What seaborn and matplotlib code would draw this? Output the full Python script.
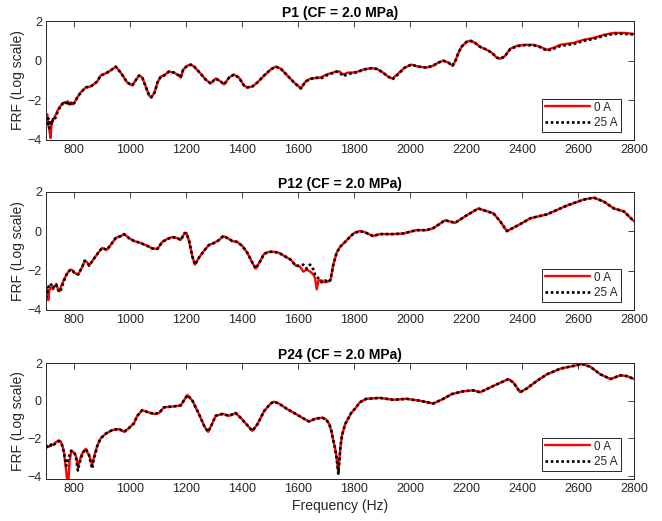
import matplotlib
matplotlib.use("Agg")
import matplotlib.pyplot as plt
import seaborn as sns
import numpy as np

# ---------------- data ----------------
titles = ["P1 (CF = 2.0 MPa)", "P12 (CF = 2.0 MPa)", "P24 (CF = 2.0 MPa)"]
series_labels = ["0 A", "25 A"]
x_ticks = [800, 1000, 1200, 1400, 1600, 1800, 2000, 2200, 2400, 2600, 2800]
y_ticks = [-4, -2, 0, 2]

p1_freq = [700, 704, 708, 712, 716, 720, 725, 730, 736, 742,
           748, 754, 760, 766, 772, 778, 784, 790, 796, 800,
           812, 824, 842, 860, 883, 895, 919, 935, 949, 967,
           990, 1008, 1020, 1032, 1044, 1056, 1068, 1076, 1088, 1098,
           1110, 1121, 1139, 1157, 1175, 1181, 1190, 1205, 1217, 1229,
           1252, 1270, 1288, 1306, 1324, 1336, 1354, 1371, 1389, 1407,
           1419, 1437, 1455, 1479, 1502, 1520, 1538, 1562, 1586, 1610,
           1627, 1645, 1665, 1681, 1701, 1725, 1737, 1749, 1761, 1779,
           1796, 1814, 1832, 1862, 1880, 1898, 1922, 1937, 1958, 1981,
           2005, 2029, 2059, 2083, 2101, 2119, 2137, 2152, 2161, 2173,
           2184, 2202, 2217, 2232, 2250, 2274, 2292, 2310, 2322, 2337,
           2358, 2382, 2411, 2441, 2465, 2489, 2513, 2537, 2585, 2620,
           2656, 2692, 2728, 2764, 2800]
p1_0a = [-3.0, -2.7, -3.2, -3.5, -3.9, -3.2, -3.0, -2.85, -2.7, -2.5,
         -2.35, -2.25, -2.2, -2.1, -2.15, -2.05, -2.2, -2.1, -2.2, -2.15,
         -1.85, -1.6, -1.35, -1.3, -1.05, -0.75, -0.6, -0.45, -0.3, -0.6,
         -1.1, -1.25, -1.0, -0.75, -0.85, -1.3, -1.75, -1.85, -1.6, -1.1,
         -0.8, -0.75, -0.55, -0.6, -0.75, -0.85, -0.45, -0.25, -0.2, -0.3,
         -0.65, -0.95, -1.15, -0.9, -1.05, -1.2, -0.85, -0.7, -0.85, -1.25,
         -1.35, -1.3, -1.1, -0.75, -0.45, -0.3, -0.4, -0.75, -1.1, -1.4,
         -1.05, -0.9, -0.88, -0.85, -0.7, -0.6, -0.55, -0.55, -0.7, -0.6,
         -0.6, -0.55, -0.45, -0.38, -0.4, -0.55, -0.8, -0.9, -0.65, -0.35,
         -0.2, -0.3, -0.35, -0.25, -0.1, 0.0, -0.1, -0.25, -0.05, 0.4,
         0.7, 0.95, 1.0, 0.9, 0.7, 0.55, 0.4, 0.15, 0.1, 0.2,
         0.6, 0.75, 0.8, 0.8, 0.7, 0.55, 0.65, 0.8, 0.9, 1.05,
         1.15, 1.3, 1.4, 1.4, 1.35]
p1_25a = [-3.1, -3.3, -2.9, -3.4, -3.0, -3.2, -2.95, -3.0, -2.8, -2.55,
          -2.4, -2.25, -2.15, -2.2, -2.1, -2.25, -2.05, -2.25, -2.15, -2.15,
          -1.85, -1.6, -1.35, -1.3, -1.05, -0.75, -0.6, -0.45, -0.3, -0.6,
          -1.1, -1.25, -1.0, -0.75, -0.85, -1.3, -1.75, -1.85, -1.6, -1.1,
          -0.8, -0.75, -0.55, -0.6, -0.75, -0.85, -0.45, -0.25, -0.2, -0.3,
          -0.65, -0.95, -1.15, -0.9, -1.05, -1.2, -0.85, -0.7, -0.85, -1.25,
          -1.35, -1.3, -1.1, -0.75, -0.45, -0.3, -0.4, -0.75, -1.1, -1.4,
          -1.05, -0.92, -0.85, -0.9, -0.75, -0.62, -0.55, -0.6, -0.78, -0.68,
          -0.62, -0.58, -0.45, -0.38, -0.42, -0.55, -0.8, -0.95, -0.68, -0.35,
          -0.2, -0.3, -0.35, -0.25, -0.1, 0.0, -0.1, -0.25, -0.05, 0.4,
          0.7, 0.95, 1.0, 0.9, 0.7, 0.55, 0.4, 0.15, 0.1, 0.2,
          0.58, 0.73, 0.78, 0.78, 0.68, 0.5, 0.6, 0.74, 0.84, 1.0,
          1.1, 1.25, 1.35, 1.35, 1.32]

p2_freq = [700, 704, 708, 712, 716, 720, 725, 730, 736, 742,
           748, 754, 760, 766, 772, 778, 784, 790, 796, 800,
           815, 830, 838, 848, 854, 871, 889, 901, 917, 931,
           949, 967, 979, 996, 1014, 1038, 1062, 1080, 1098, 1115,
           1133, 1151, 1169, 1181, 1195, 1202, 1211, 1223, 1232, 1246,
           1264, 1282, 1300, 1318, 1333, 1348, 1365, 1383, 1401, 1419,
           1437, 1449, 1464, 1479, 1496, 1514, 1532, 1550, 1574, 1592,
           1607, 1619, 1631, 1643, 1655, 1661, 1667, 1673, 1685, 1697,
           1708, 1716, 1726, 1738, 1750, 1768, 1785, 1800, 1820, 1838,
           1868, 1892, 1940, 1976, 2023, 2059, 2083, 2125, 2161, 2202,
           2244, 2298, 2322, 2346, 2393, 2429, 2489, 2561, 2620, 2656,
           2692, 2728, 2764, 2800]
p2_0a = [-3.0, -2.85, -3.5, -3.0, -2.9, -2.85, -2.95, -2.8, -2.7, -2.9,
         -3.05, -2.8, -2.6, -2.4, -2.25, -2.1, -2.0, -1.95, -2.0, -2.1,
         -2.2, -1.8, -1.5, -1.6, -1.75, -1.4, -1.05, -0.85, -0.95, -0.7,
         -0.35, -0.25, -0.15, -0.35, -0.5, -0.6, -0.75, -0.88, -0.9, -0.55,
         -0.4, -0.3, -0.35, -0.45, -0.1, -0.1, -0.5, -1.3, -1.7, -1.35,
         -1.0, -0.7, -0.6, -0.45, -0.25, -0.35, -0.5, -0.55, -0.75, -1.1,
         -1.6, -1.9, -1.55, -1.15, -1.05, -1.05, -1.1, -1.25, -1.45, -1.75,
         -1.8, -2.05, -1.95, -2.05, -2.2, -2.4, -2.95, -2.5, -2.5, -2.6,
         -2.55, -2.5, -1.7, -1.1, -0.8, -0.55, -0.3, -0.1, 0.0, -0.05,
         -0.25, -0.15, -0.15, -0.12, 0.05, 0.05, 0.15, 0.55, 0.42, 0.8,
         1.15, 0.9, 0.5, 0.0, 0.35, 0.65, 0.85, 1.3, 1.6, 1.7,
         1.5, 1.15, 1.0, 0.5]
p2_25a = [-3.4, -3.2, -2.9, -2.7, -2.65, -2.75, -2.9, -2.75, -2.7, -2.95,
          -3.1, -2.95, -2.7, -2.45, -2.25, -2.05, -2.0, -1.95, -2.0, -2.1,
          -2.2, -1.8, -1.5, -1.6, -1.75, -1.4, -1.05, -0.85, -0.95, -0.7,
          -0.35, -0.25, -0.15, -0.35, -0.5, -0.6, -0.75, -0.88, -0.9, -0.55,
          -0.4, -0.3, -0.35, -0.45, -0.1, -0.1, -0.5, -1.3, -1.7, -1.35,
          -1.0, -0.7, -0.6, -0.45, -0.25, -0.35, -0.5, -0.55, -0.75, -1.1,
          -1.6, -1.9, -1.55, -1.15, -1.05, -1.05, -1.1, -1.25, -1.45, -1.75,
          -1.75, -1.7, -1.9, -1.7, -1.95, -2.2, -2.3, -2.4, -2.6, -2.5,
          -2.6, -2.45, -1.7, -1.1, -0.8, -0.55, -0.3, -0.1, 0.0, -0.05,
          -0.25, -0.15, -0.15, -0.12, 0.05, 0.05, 0.15, 0.55, 0.42, 0.8,
          1.15, 0.9, 0.5, 0.0, 0.35, 0.65, 0.85, 1.3, 1.6, 1.7,
          1.5, 1.15, 1.0, 0.5]

p3_freq = [700, 710, 718, 726, 735, 746, 752, 758, 764, 768,
           772, 776, 780, 784, 790, 796, 802, 808, 814, 820,
           826, 833, 842, 848, 854, 860, 865, 871, 877, 883,
           895, 913, 937, 961, 979, 996, 1014, 1026, 1044, 1062,
           1086, 1104, 1121, 1157, 1181, 1205, 1223, 1246, 1267, 1279,
           1291, 1306, 1330, 1354, 1377, 1395, 1419, 1437, 1455, 1479,
           1502, 1514, 1532, 1562, 1592, 1621, 1639, 1663, 1687, 1701,
           1712, 1719, 1726, 1732, 1736, 1740, 1744, 1748, 1752, 1757,
           1768, 1790, 1805, 1821, 1844, 1892, 1940, 1988, 2035, 2083,
           2119, 2149, 2190, 2226, 2250, 2286, 2322, 2352, 2370, 2393,
           2417, 2453, 2489, 2537, 2585, 2614, 2644, 2680, 2716, 2752,
           2776, 2800]
p3_0a = [-2.35, -2.45, -2.3, -2.35, -2.2, -2.1, -2.15, -2.35, -2.7, -3.2,
         -3.7, -4.3, -4.3, -3.2, -2.7, -2.7, -2.8, -3.0, -3.5, -3.2,
         -2.9, -2.7, -2.55, -2.75, -2.9, -3.2, -3.4, -3.0, -2.7, -2.4,
         -2.0, -1.75, -1.55, -1.5, -1.65, -1.45, -1.2, -0.8, -0.5, -0.6,
         -0.7, -0.65, -0.35, -0.3, -0.25, 0.3, 0.0, -0.7, -1.4, -1.65,
         -1.3, -0.8, -0.7, -0.8, -0.65, -0.9, -1.3, -1.6, -1.25, -0.55,
         -0.15, -0.05, -0.15, -0.45, -0.7, -0.95, -1.1, -0.95, -0.9, -1.0,
         -1.25, -1.6, -2.1, -2.5, -2.85, -3.3, -3.8, -3.1, -2.4, -1.85,
         -1.25, -0.65, -0.4, -0.08, 0.1, 0.15, 0.05, 0.1, 0.0, -0.15,
         0.1, 0.35, 0.5, 0.55, 0.45, 0.7, 0.95, 1.15, 0.95, 0.45,
         0.65, 1.05, 1.4, 1.7, 1.85, 1.95, 1.8, 1.4, 1.15, 1.35,
         1.3, 1.15]
p3_25a = [-2.4, -2.5, -2.35, -2.4, -2.2, -2.15, -2.2, -2.4, -2.75, -3.1,
          -3.45, -3.3, -3.0, -2.9, -2.65, -2.7, -2.75, -3.1, -3.7, -3.3,
          -3.0, -2.75, -2.55, -2.7, -2.9, -3.3, -3.6, -3.1, -2.75, -2.4,
          -2.0, -1.75, -1.55, -1.5, -1.65, -1.45, -1.2, -0.8, -0.5, -0.6,
          -0.7, -0.65, -0.35, -0.3, -0.25, 0.3, 0.0, -0.7, -1.4, -1.65,
          -1.3, -0.8, -0.7, -0.8, -0.65, -0.9, -1.3, -1.6, -1.25, -0.55,
          -0.15, -0.05, -0.15, -0.45, -0.7, -0.95, -1.1, -0.95, -0.9, -1.0,
          -1.25, -1.6, -2.1, -2.5, -2.85, -3.3, -3.87, -3.1, -2.4, -1.85,
          -1.25, -0.65, -0.4, -0.08, 0.1, 0.15, 0.05, 0.1, 0.0, -0.15,
          0.1, 0.35, 0.5, 0.55, 0.45, 0.7, 0.95, 1.15, 0.95, 0.45,
          0.65, 1.05, 1.4, 1.7, 1.85, 1.95, 1.8, 1.4, 1.15, 1.35,
          1.3, 1.15]

panels = [(p1_freq, p1_0a, p1_25a), (p2_freq, p2_0a, p2_25a), (p3_freq, p3_0a, p3_25a)]
for f, a, b in panels:
    assert len(f) == len(a) == len(b), (len(f), len(a), len(b))

# ---------------- styling ----------------
sns.set_style("white")
plt.rcParams["font.family"] = ["Liberation Sans", "DejaVu Sans"]
axc = "#262626"

fig = plt.figure(figsize=(6.62, 5.21), dpi=100)
W, H = 662.0, 521.0
left, right = 46, 634
boxes = [(21, 140), (191.7, 310), (363, 479)]
ylims = [(-4, 2), (-4, 2), (-4.15, 2)]

for i, ((f, a, b), (top, bot)) in enumerate(zip(panels, boxes)):
    ax = fig.add_axes([left / W, 1 - bot / H, (right - left) / W, (bot - top) / H])
    sns.lineplot(x=np.array(f), y=np.array(a), ax=ax, color="#ff0000", linewidth=1.7,
                 label=series_labels[0], sort=False, estimator=None)
    sns.lineplot(x=np.array(f), y=np.array(b), ax=ax, color="black", linewidth=1.9,
                 linestyle=(0, (1, 1)), label=series_labels[1], sort=False, estimator=None,
                 dash_capstyle="butt")
    ax.set_xlim(700, 2800)
    ax.set_ylim(*ylims[i])
    ax.set_xticks(x_ticks)
    ax.set_yticks(y_ticks)
    ax.tick_params(direction="in", top=True, right=True, length=4, width=0.6,
                   colors=axc, labelsize=9, pad=3)
    for s in ax.spines.values():
        s.set_color(axc)
        s.set_linewidth(0.7)
        s.set_visible(True)
    ax.set_title(titles[i], fontsize=10, fontweight="bold", pad=3, color="black")
    ax.set_ylabel("FRF (Log scale)", fontsize=10, color=axc, labelpad=2)
    if i == 2:
        ax.set_xlabel("Frequency (Hz)", fontsize=10, color=axc, labelpad=3)
    else:
        ax.set_xlabel("")
    pw, ph = right - left, bot - top
    leg = ax.legend(loc="lower right", bbox_to_anchor=(1 - 13 / pw, 8 / ph),
                    borderaxespad=0, fontsize=8.5, frameon=True, fancybox=False,
                    edgecolor=axc, handlelength=3.8, handletextpad=0.4,
                    borderpad=0.25, labelspacing=0.3, framealpha=1)
    leg.get_frame().set_linewidth(0.7)

fig.savefig("out.png", dpi=100)
